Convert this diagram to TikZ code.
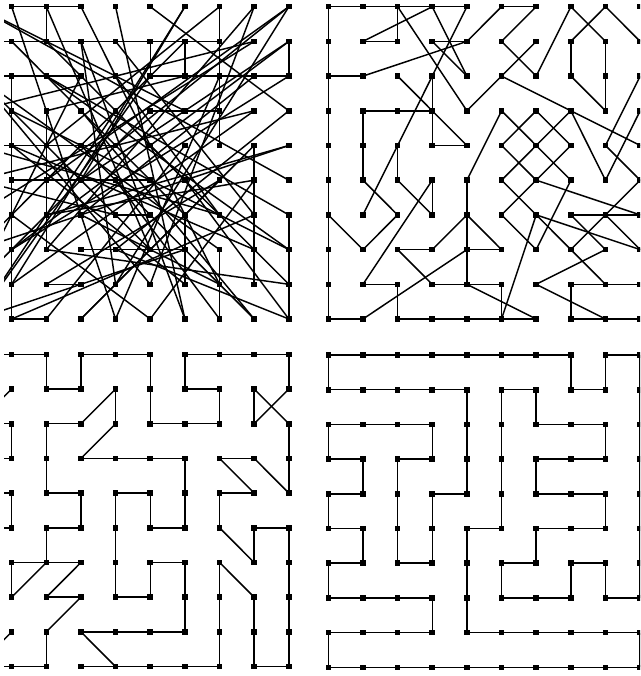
\documentclass[tikz,border=0pt]{standalone}
\begin{document}
\begin{tikzpicture}[x=0.3mm, y=-0.3mm,
    tour/.style={line width=1.25pt, line join=round}]
  \useasboundingbox (0,0) rectangle (640,676);
  \clip (4,0) rectangle (640,676);
  % GRID POINTS (4 x 100), name = panel + column + row
  \foreach \p/\ox/\oy in {tl/-23/6.7, tr/328.3/6.7, bl/-23/354.3, br/328.3/355}
    \foreach \i in {0,...,9}
      \foreach \j in {0,...,9}
        \coordinate (\p\i\j) at (\ox+34.65*\i, \oy+34.7*\j);
  % RANDOM TOUR (top left)
  \foreach \a/\b in {10/30, 20/21, 01/71, 02/32, 52/92, 51/52, 61/62, 91/92,
      12/19, 23/27, 04/44, 15/55, 53/73, 37/67, 28/38, 19/29, 70/74, 77/79,
      84/88, 96/99, 66/68, 46/56,
      10/49, 40/69, 50/93, 60/35, 70/24, 80/58, 90/25, 00/95, 03/81, 11/66,
      31/48, 81/06, 91/17, 41/86, 22/96, 32/08, 42/76, 82/36, 13/97, 33/89,
      43/09, 83/18, 93/47, 64/29, 54/98, 94/07, 75/39, 65/99, 85/26, 46/05,
      36/78, 16/59, 76/04, 28/75, 48/90, 68/14, 58/02, 89/34, 79/45, 98/27,
      08/53, 09/67, 35/91, 21/65, 62/23, 72/49, 14/87, 39/84,
      00/63, 02/77, 05/83, 07/61, 09/52, 20/57, 30/78, 60/18, 80/27, 90/44,
      17/92, 26/94, 47/99, 57/02, 69/31, 86/19, 97/22, 59/85}
    \draw[tour] (tl\a) -- (tl\b);
  % IMPROVED TOUR (top right)
  \foreach \a/\b in {00/40, 00/09, 20/21, 21/11, 11/30, 20/43, 30/42, 31/42,
      31/41, 12/41, 50/41, 40/16, 02/12, 22/44, 32/34, 34/44, 13/33, 13/15,
      24/25, 15/26, 06/17, 17/26, 25/36, 35/36, 35/18, 18/28, 28/29, 37/27,
      27/38, 38/48, 45/48, 46/37, 46/57, 47/57, 47/19, 48/58, 58/59, 48/69,
      09/19, 29/69, 79/99,
      50/60, 60/51, 51/62, 61/43, 62/70, 52/94, 70/81, 80/71, 80/91, 71/72,
      72/83, 81/83, 92/84, 84/95, 93/85, 73/85, 73/64, 53/45, 53/64, 63/54,
      63/74, 54/65, 64/55, 64/75, 74/65, 55/66, 65/56, 65/96, 75/67, 56/67,
      66/59, 66/97, 66/77, 76/96, 76/87, 86/77, 86/95, 86/97, 77/88, 87/68,
      68/89, 78/98, 78/79}
    \draw[tour] (tr\a) -- (tr\b);
  % NEAR OPTIMAL TOUR (bottom left)
  \foreach \a/\b in {10/00, 10/20, 20/21, 21/31, 31/30, 30/50, 50/52, 52/72,
      72/71, 71/61, 61/60, 60/90, 90/91, 91/82, 82/81, 81/92, 92/94, 94/83,
      83/73, 73/84, 84/74, 74/75, 75/86, 86/85, 85/95, 95/99, 99/89, 89/87,
      87/76, 76/79, 79/39, 68/38, 68/66, 66/56, 56/57, 57/47, 47/44, 44/54,
      54/55, 55/65, 65/63, 63/33, 33/42, 42/41, 41/32, 32/22, 22/24, 24/34,
      34/35, 35/25, 25/26, 26/16, 26/36, 26/17, 16/17, 36/27, 27/37, 37/28,
      28/29, 29/19, 19/09, 38/49, 11/02, 12/13, 12/02, 13/03, 14/15, 14/04,
      15/05, 18/09}
    \draw[tour] (bl\a) -- (bl\b);
  % OPTIMAL TOUR (bottom right)
  \foreach \a/\b in {00/70, 70/71, 71/81, 81/80, 80/90, 00/01, 01/41, 41/44,
      44/34, 34/36, 36/26, 26/23, 23/33, 33/32, 32/02, 02/03, 03/13, 13/14,
      14/04, 04/05, 05/15, 15/16, 16/06, 06/07, 07/37, 37/38, 38/08, 08/09,
      09/99, 45/48, 48/98, 45/55, 55/51, 51/61, 61/62, 62/82, 82/83, 83/63,
      63/64, 64/84, 84/85, 85/65, 65/66, 66/56, 56/57, 57/77, 77/76, 76/86,
      86/87, 87/97, 97/90, 98/99}
    \draw[tour] (br\a) -- (br\b);
  % points on top
  \foreach \p in {tl,tr,bl,br}
    \foreach \i in {0,...,9}
      \foreach \j in {0,...,9}
        \fill (\p\i\j) +(-2.8,-2.8) rectangle +(2.8,2.8);
\end{tikzpicture}
\end{document}
